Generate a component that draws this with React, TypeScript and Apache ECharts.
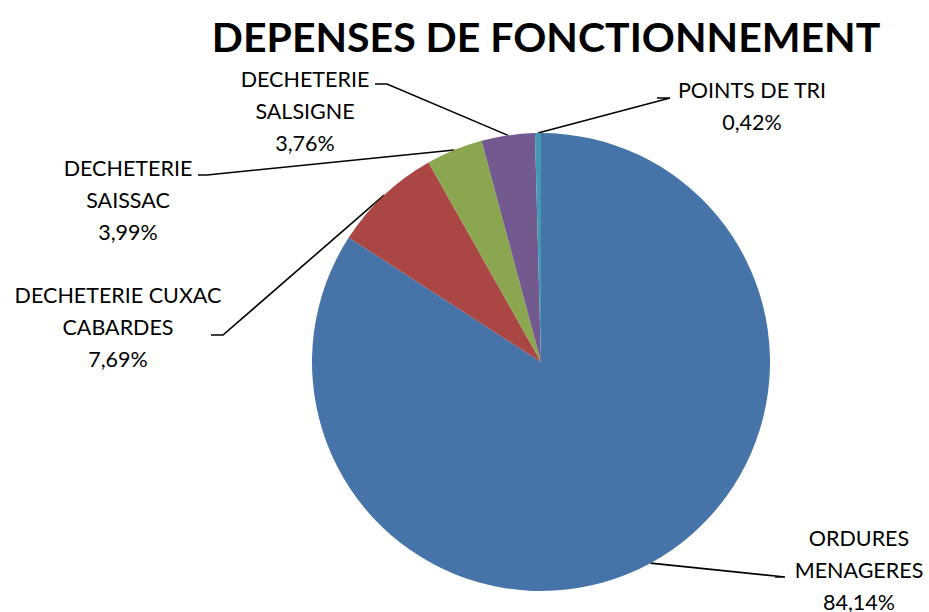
import React, { useEffect, useRef } from "react";
import * as echarts from "echarts";

const TITLE = "DEPENSES DE FONCTIONNEMENT";
const categories = [
  "ORDURES\nMENAGERES",
  "DECHETERIE CUXAC\nCABARDES",
  "DECHETERIE\nSAISSAC",
  "DECHETERIE\nSALSIGNE",
  "POINTS DE TRI",
];
const percents = [84.14, 7.69, 3.99, 3.76, 0.42];
const colors = ["#4674A8", "#AA4644", "#8AA64F", "#72598F", "#4299B0"];

// label layout: text centre (x, y of middle line), elbow point, end of horizontal segment
const labelPos = [
  { x: 859, y: 570, elbow: [785, 577], hEnd: [775, 577] },
  { x: 118, y: 327, elbow: [223, 335], hEnd: [211, 335] },
  { x: 128, y: 200, elbow: [207, 175], hEnd: [198, 175] },
  { x: 305, y: 111, elbow: [387, 84], hEnd: [375, 84] },
  { x: 752, y: 106, elbow: [670, 98], hEnd: [657, 98] },
];

const FONT = "Lato";

export default function App() {
  const ref = useRef<HTMLDivElement>(null);
  useEffect(() => {
    if (!ref.current) return;
    const chart = echarts.init(ref.current, undefined, { renderer: "svg" });
    chart.setOption({
      animation: false,
      backgroundColor: "#ffffff",
      title: {
        text: TITLE,
        left: 541,
        top: 11,
        textAlign: "center",
        textStyle: {
          fontFamily: FONT,
          fontWeight: "bold",
          fontSize: 41,
          color: "#000000",
        },
      },
      series: [
        {
          type: "pie",
          center: [541, 362],
          radius: 229,
          startAngle: 90,
          clockwise: true,
          avoidLabelOverlap: false,
          data: categories.map((name, i) => ({
            name,
            value: percents[i],
            itemStyle: { color: colors[i] },
          })),
          itemStyle: { borderWidth: 0 },
          label: {
            show: true,
            formatter: (p: any) =>
              p.name + "\n" + percents[p.dataIndex].toFixed(2).replace(".", ",") + "%",
            fontFamily: FONT,
            fontSize: 21.5,
            lineHeight: 32,
            color: "#000000",
            align: "center",
          },
          labelLine: {
            show: true,
            lineStyle: { color: "#000000", width: 1.6 },
          },
          labelLayout: (params: any) => {
            const lp = labelPos[params.dataIndex];
            const pts = params.labelLinePoints;
            const start = pts && pts[0] ? pts[0] : lp.elbow;
            return {
              x: lp.x,
              y: lp.y,
              align: "center",
              verticalAlign: "middle",
              labelLinePoints: [start, lp.elbow, lp.hEnd],
            };
          },
          emphasis: { disabled: true },
        },
      ],
    });
    return () => chart.dispose();
  }, []);
  return (
    <div
      ref={ref}
      style={{ position: "fixed", left: 0, top: 0, width: 929, height: 612 }}
    />
  );
}
